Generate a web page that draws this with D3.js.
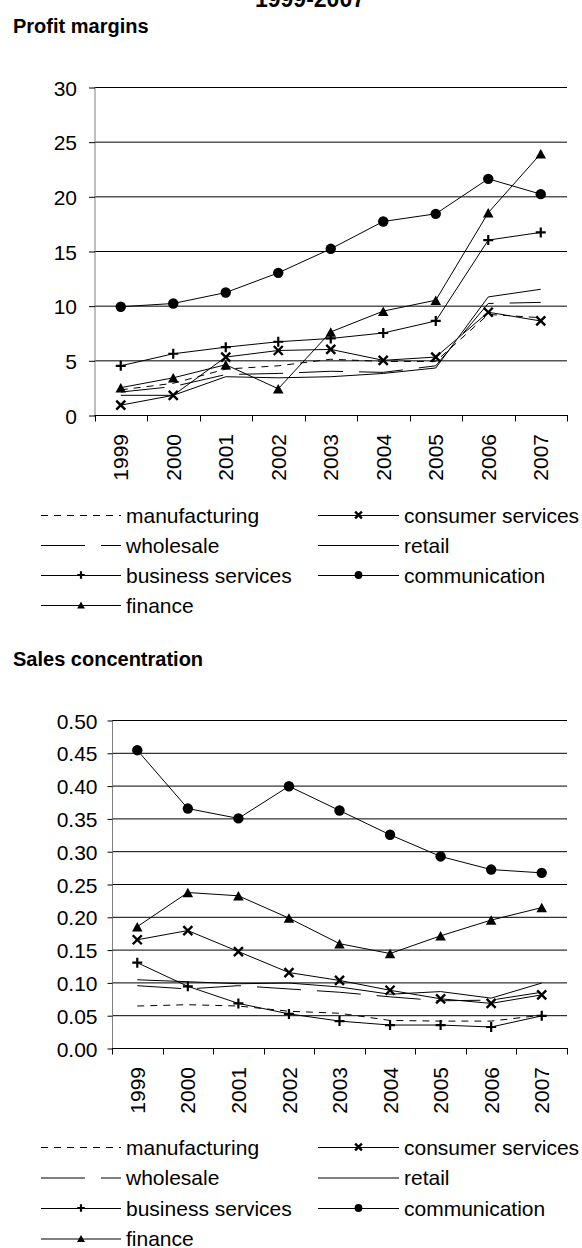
<!DOCTYPE html>
<html>
<head>
<meta charset="utf-8">
<script src="https://cdn.jsdelivr.net/npm/d3@7"></script>
<style>
  html, body { margin: 0; padding: 0; background: #fff; }
  svg { display: block; font-family: "Liberation Sans", Arial, sans-serif; }
</style>
</head>
<body>
<svg id="chart" width="582" height="1248"></svg>
<script>
// Categories
const years = ["1999", "2000", "2001", "2002", "2003", "2004", "2005", "2006", "2007"];
const sectors = ["manufacturing", "consumer services", "wholesale", "retail",
                 "business services", "communication", "finance"];

// Profit margins (%)
const profitManufacturing = [2.3, 2.9, 4.2, 4.5, 5.1, 4.9, 4.9, 9.2, 8.9];
const profitConsumer      = [0.9, 1.8, 5.3, 5.9, 6.0, 5.0, 5.3, 9.4, 8.6];
const profitWholesale     = [2.1, 2.6, 3.7, 3.8, 4.0, 3.9, 4.5, 10.2, 10.3];
const profitRetail        = [1.8, 1.8, 3.5, 3.4, 3.5, 3.8, 4.3, 10.8, 11.5];
const profitBusiness      = [4.5, 5.6, 6.2, 6.7, 7.0, 7.5, 8.6, 16.0, 16.7];
const profitCommunication = [9.9, 10.2, 11.2, 13.0, 15.2, 17.7, 18.4, 21.6, 20.2];
const profitFinance       = [2.5, 3.4, 4.6, 2.4, 7.6, 9.5, 10.5, 18.5, 23.9];

// Sales concentration
const salesManufacturing = [0.064, 0.066, 0.064, 0.056, 0.053, 0.042, 0.041, 0.041, 0.050];
const salesConsumer      = [0.165, 0.179, 0.147, 0.115, 0.103, 0.088, 0.075, 0.068, 0.081];
const salesWholesale     = [0.095, 0.090, 0.095, 0.090, 0.085, 0.078, 0.072, 0.073, 0.085];
const salesRetail        = [0.104, 0.101, 0.098, 0.099, 0.093, 0.082, 0.086, 0.076, 0.099];
const salesBusiness      = [0.130, 0.094, 0.068, 0.052, 0.041, 0.035, 0.035, 0.032, 0.049];
const salesCommunication = [0.454, 0.365, 0.350, 0.399, 0.362, 0.325, 0.292, 0.272, 0.267];
const salesFinance       = [0.185, 0.237, 0.232, 0.198, 0.159, 0.144, 0.171, 0.195, 0.214];

// Tick labels
const profitTicks = [0, 5, 10, 15, 20, 25, 30];
const salesTicks = [0, 0.05, 0.10, 0.15, 0.20, 0.25, 0.30, 0.35, 0.40, 0.45, 0.50];

// Line and marker style of each sector
const styles = {
  "manufacturing":     { dash: "7,6",   marker: null },
  "consumer services": { dash: null,    marker: "cross" },
  "wholesale":         { dash: "44,16", marker: null },
  "retail":            { dash: null,    marker: null },
  "business services": { dash: null,    marker: "plus" },
  "communication":     { dash: null,    marker: "circle" },
  "finance":           { dash: null,    marker: "triangle" }
};

const svg = d3.select("#chart");
const FONT = 21;

function drawMarker(g, type, cx, cy, s) {
  if (type === "circle") {
    g.append("circle").attr("cx", cx).attr("cy", cy).attr("r", s * 0.52).attr("fill", "#000");
  } else if (type === "triangle") {
    const h = s * 0.95, w = s * 1.05;
    g.append("path")
      .attr("d", `M${cx},${cy - h / 2}L${cx + w / 2},${cy + h / 2}L${cx - w / 2},${cy + h / 2}Z`)
      .attr("fill", "#000");
  } else if (type === "cross") {
    const d = s * 0.45;
    g.append("path")
      .attr("d", `M${cx - d},${cy - d}L${cx + d},${cy + d}M${cx - d},${cy + d}L${cx + d},${cy - d}`)
      .attr("stroke", "#000").attr("stroke-width", 2.4).attr("fill", "none");
  } else if (type === "plus") {
    const d = s * 0.5;
    g.append("path")
      .attr("d", `M${cx - d},${cy}L${cx + d},${cy}M${cx},${cy - d}L${cx},${cy + d}`)
      .attr("stroke", "#000").attr("stroke-width", 2.2).attr("fill", "none");
  }
}

function drawChart(cfg) {
  const g = svg.append("g");

  const x = d3.scaleBand().domain(years).range([cfg.left, cfg.right]).padding(0);
  const y = d3.scaleLinear().domain(cfg.domain).range([cfg.bottom, cfg.top]);
  const cx = d => x(d) + x.bandwidth() / 2;

  // panel title
  g.append("text")
    .attr("x", 13).attr("y", cfg.titleY)
    .attr("font-size", 20).attr("font-weight", "bold")
    .text(cfg.title);

  // horizontal gridlines
  g.append("g").selectAll("line").data(cfg.ticks.filter(t => t > 0)).join("line")
    .attr("x1", cfg.left).attr("x2", cfg.right)
    .attr("y1", d => y(d) + 0.5).attr("y2", d => y(d) + 0.5)
    .attr("stroke", "#000").attr("stroke-width", 1);

  // y axis
  const yAxis = d3.axisLeft(y).tickValues(cfg.ticks).tickFormat(cfg.fmt)
    .tickSize(cfg.tickLen).tickPadding(cfg.tickPad);
  const ya = g.append("g").attr("transform", `translate(${cfg.left + 0.5},0.5)`).call(yAxis);
  ya.select(".domain").attr("stroke", "#808080").attr("d", `M0,${cfg.top}V${cfg.bottom}`);
  ya.selectAll(".tick line").attr("stroke", "#000");
  ya.selectAll(".tick text")
    .attr("font-size", FONT).attr("font-family", "Liberation Sans, Arial, sans-serif")
    .attr("fill", "#000").attr("dy", "0.36em");

  // x axis with ticks on category boundaries
  const xa = g.append("g");
  xa.append("line")
    .attr("x1", cfg.left).attr("x2", cfg.right)
    .attr("y1", cfg.bottom + 0.5).attr("y2", cfg.bottom + 0.5)
    .attr("stroke", "#000");
  const bounds = years.map(d => x(d)).concat([x.range()[1]]);
  xa.selectAll("line.tk").data(bounds).join("line").attr("class", "tk")
    .attr("x1", d => Math.round(d) + 0.5).attr("x2", d => Math.round(d) + 0.5)
    .attr("y1", cfg.bottom).attr("y2", cfg.bottom + 6.5)
    .attr("stroke", "#000");
  xa.selectAll("text").data(years).join("text")
    .attr("transform", d => `translate(${cx(d)},${cfg.bottom + 19}) rotate(-90)`)
    .attr("text-anchor", "end").attr("dy", "0.36em")
    .attr("font-size", FONT)
    .text(d => d);

  // series lines and markers
  const line = d3.line().x((v, i) => cx(years[i])).y(v => y(v));
  sectors.forEach(s => {
    const vals = cfg.series[s];
    const st = styles[s];
    g.append("path")
      .attr("d", line(vals))
      .attr("fill", "none").attr("stroke", "#000").attr("stroke-width", 1)
      .attr("stroke-dasharray", st.dash);
    if (st.marker) {
      vals.forEach((v, i) => drawMarker(g, st.marker, cx(years[i]), y(v), 10));
    }
  });

  // legend
  const lg = g.append("g");
  const cols = [{ x1: 41, x2: 121, tx: 126 }, { x1: 318, x2: 399, tx: 404 }];
  sectors.forEach((s, i) => {
    const c = cols[i % 2];
    const ry = cfg.legendY + Math.floor(i / 2) * cfg.legendStep;
    const st = styles[s];
    lg.append("line")
      .attr("x1", c.x1).attr("x2", c.x2).attr("y1", ry + 0.5).attr("y2", ry + 0.5)
      .attr("stroke", "#000").attr("stroke-width", 1)
      .attr("stroke-dasharray", st.dash);
    if (st.marker) drawMarker(lg, st.marker, (c.x1 + c.x2) / 2, ry, 7.5);
    lg.append("text")
      .attr("x", c.tx).attr("y", ry).attr("dy", "0.36em")
      .attr("font-size", FONT)
      .text(s);
  });
}

svg.append("rect").attr("width", 582).attr("height", 1248).attr("fill", "#fff");

// overall heading
svg.append("text")
  .attr("x", 310).attr("y", 7).attr("text-anchor", "middle")
  .attr("font-size", 23).attr("font-weight", "bold")
  .text("1999-2007");

drawChart({
  title: "Profit margins", titleY: 33,
  left: 94.5, right: 567, top: 87, bottom: 415,
  domain: [0, 30], ticks: profitTicks, fmt: d3.format("d"),
  tickLen: 6, tickPad: 12,
  legendY: 515, legendStep: 30,
  series: {
    "manufacturing": profitManufacturing, "consumer services": profitConsumer,
    "wholesale": profitWholesale, "retail": profitRetail,
    "business services": profitBusiness, "communication": profitCommunication,
    "finance": profitFinance
  }
});

drawChart({
  title: "Sales concentration", titleY: 666,
  left: 112, right: 567, top: 720, bottom: 1048,
  domain: [0, 0.5], ticks: salesTicks, fmt: d3.format(".2f"),
  tickLen: 5, tickPad: 10,
  legendY: 1147, legendStep: 30.5,
  series: {
    "manufacturing": salesManufacturing, "consumer services": salesConsumer,
    "wholesale": salesWholesale, "retail": salesRetail,
    "business services": salesBusiness, "communication": salesCommunication,
    "finance": salesFinance
  }
});
</script>
</body>
</html>
